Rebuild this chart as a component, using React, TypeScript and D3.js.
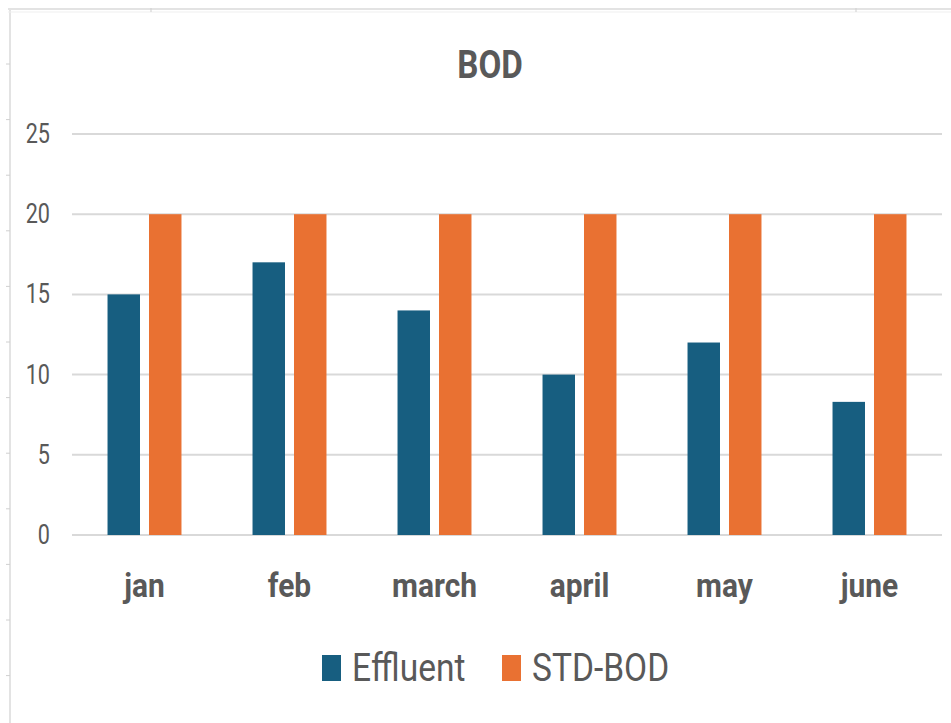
import React, { useRef, useEffect } from 'react';
import * as d3 from 'd3';

const months = ['jan', 'feb', 'march', 'april', 'may', 'june'];
const effluent = [15, 17, 14, 10, 12, 8.3];
const stdBod = [20, 20, 20, 20, 20, 20];
const seriesNames = ['Effluent', 'STD-BOD'];
const seriesColors = ['#175e80', '#e97132'];
const yTicks = [0, 5, 10, 15, 20, 25];

const W = 951;
const H = 723;
const FONT = 'Roboto, "DejaVu Sans", sans-serif';
const TEXT = '#595959';

function App() {
  const svgRef = useRef<SVGSVGElement>(null);

  useEffect(() => {
    const svg = d3.select(svgRef.current);
    svg.selectAll('*').remove();

    const left = 72, right = 942, top = 134, bottom = 535;

    const x0 = d3.scaleBand().domain(months).range([left, right]).paddingInner(0.49).paddingOuter(0.245);
    const x1 = d3.scaleBand().domain(seriesNames).range([0, x0.bandwidth()]).paddingInner(0.217);
    const y = d3.scaleLinear().domain([0, 25]).range([bottom, top]);

    // outer frame (sheet edge)
    const frame = svg.append('g').attr('stroke', '#e3e3e3');
    frame.append('line').attr('x1', 10).attr('x2', 10).attr('y1', 8).attr('y2', H).attr('stroke-width', 2);
    frame.append('line').attr('x1', 8).attr('x2', W).attr('y1', 9).attr('y2', 9).attr('stroke-width', 2);
    frame.append('line').attr('x1', 8).attr('x2', W).attr('y1', 12).attr('y2', 12).attr('stroke-width', 1).attr('stroke', '#efefef');
    d3.range(64, H, 55.6).forEach(t => {
      frame.append('line').attr('x1', 6).attr('x2', 10).attr('y1', t).attr('y2', t).attr('stroke-width', 1).attr('stroke', '#d0d0d0');
    });
    [151, 856].forEach(t => {
      frame.append('line').attr('x1', t).attr('x2', t).attr('y1', 8).attr('y2', 12).attr('stroke-width', 1).attr('stroke', '#cfcfcf');
    });

    // gridlines
    svg.append('g')
      .selectAll('line')
      .data(yTicks)
      .join('line')
      .attr('x1', left)
      .attr('x2', right)
      .attr('y1', d => y(d))
      .attr('y2', d => y(d))
      .attr('stroke', '#d9d9d9')
      .attr('stroke-width', 2);

    // y labels
    svg.append('g')
      .selectAll('text')
      .data(yTicks)
      .join('text')
      .attr('transform', d => `translate(50,${y(d) + 9}) scale(0.8,1)`)
      .attr('text-anchor', 'end')
      .attr('font-family', FONT)
      .attr('font-size', 27)
      .attr('fill', TEXT)
      .text(d => d);

    // bars
    const groups = svg.append('g')
      .selectAll('g')
      .data(months)
      .join('g')
      .attr('transform', d => `translate(${x0(d)},0)`);

    groups.selectAll('rect')
      .data((m, i) => [
        { key: seriesNames[0], value: effluent[i], color: seriesColors[0] },
        { key: seriesNames[1], value: stdBod[i], color: seriesColors[1] },
      ])
      .join('rect')
      .attr('x', d => x1(d.key)!)
      .attr('width', x1.bandwidth())
      .attr('y', d => y(d.value))
      .attr('height', d => y(0) - y(d.value))
      .attr('fill', d => d.color);

    // category labels
    svg.append('g')
      .selectAll('text')
      .data(months)
      .join('text')
      .attr('transform', d => `translate(${x0(d)! + x0.bandwidth() / 2},597) scale(0.88,1)`)
      .attr('text-anchor', 'middle')
      .attr('font-family', FONT)
      .attr('font-weight', 'bold')
      .attr('font-size', 34)
      .attr('fill', TEXT)
      .text(d => d);

    // title
    svg.append('text')
      .attr('transform', 'translate(490,78) scale(0.85,1)')
      .attr('text-anchor', 'middle')
      .attr('font-family', FONT)
      .attr('font-weight', 'bold')
      .attr('font-size', 39)
      .attr('fill', TEXT)
      .text('BOD');

    // legend
    const legendX = [322, 502];
    const legend = svg.append('g')
      .selectAll('g')
      .data(seriesNames)
      .join('g')
      .attr('transform', (d, i) => `translate(${legendX[i]},0)`);
    legend.append('rect')
      .attr('x', 0)
      .attr('y', 655)
      .attr('width', 19)
      .attr('height', 26)
      .attr('fill', (d, i) => seriesColors[i]);
    legend.append('text')
      .attr('transform', 'translate(30,681) scale(0.86,1)')
      .attr('font-family', FONT)
      .attr('font-size', 39)
      .attr('fill', TEXT)
      .text(d => d);
  }, []);

  return (
    <svg ref={svgRef} width={W} height={H} style={{ position: 'absolute', left: 0, top: 0, background: '#fff' }} />
  );
}

export default App;
